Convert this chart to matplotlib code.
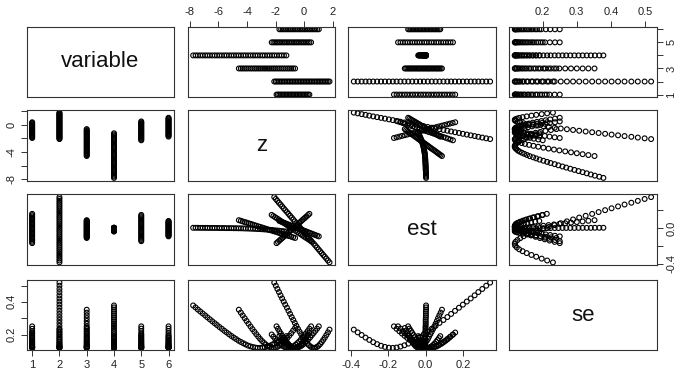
import matplotlib
matplotlib.use("Agg")
import matplotlib.pyplot as plt
import numpy as np

plt.rcParams['font.family'] = ['Liberation Sans', 'DejaVu Sans']
plt.rcParams['axes.unicode_minus'] = False

# ---------------- data ----------------
z_v1 = [-1.93, -1.83, -1.73, -1.63, -1.53, -1.43, -1.33, -1.23, -1.13, -1.03, -0.93, -0.83,
        -0.73, -0.63, -0.53, -0.43, -0.33, -0.23, -0.13, -0.03, 0.07, 0.17, 0.27, 0.37]
est_v1 = [-0.170, -0.156, -0.141, -0.127, -0.113, -0.099, -0.084, -0.070, -0.056, -0.042, -0.027, -0.013,
          0.001, 0.015, 0.030, 0.044, 0.058, 0.072, 0.087, 0.101, 0.115, 0.129, 0.144, 0.158]
se_v1 = [0.250, 0.235, 0.220, 0.206, 0.192, 0.179, 0.166, 0.155, 0.144, 0.135, 0.127, 0.122,
         0.119, 0.118, 0.120, 0.124, 0.130, 0.138, 0.148, 0.159, 0.171, 0.184, 0.198, 0.212]

z_v2 = [-2.09, -1.98, -1.87, -1.76, -1.65, -1.54, -1.43, -1.32, -1.20, -1.09, -0.98, -0.87,
        -0.76, -0.65, -0.54, -0.43, -0.32, -0.21, -0.10, 0.01, 0.12, 0.23, 0.34, 0.45,
        0.56, 0.68, 0.79, 0.90, 1.01, 1.12, 1.23, 1.34, 1.45, 1.56, 1.67, 1.78]
est_v2 = [0.345, 0.324, 0.303, 0.282, 0.262, 0.241, 0.220, 0.199, 0.178, 0.157, 0.136, 0.116,
          0.095, 0.074, 0.053, 0.032, 0.011, -0.010, -0.030, -0.051, -0.072, -0.093, -0.114, -0.135,
          -0.156, -0.176, -0.197, -0.218, -0.239, -0.260, -0.281, -0.302, -0.322, -0.343, -0.364, -0.385]
se_v2 = [0.518, 0.499, 0.479, 0.460, 0.440, 0.421, 0.402, 0.383, 0.364, 0.345, 0.326, 0.307,
         0.289, 0.271, 0.253, 0.235, 0.218, 0.202, 0.186, 0.171, 0.157, 0.144, 0.134, 0.126,
         0.120, 0.118, 0.119, 0.124, 0.131, 0.141, 0.153, 0.167, 0.181, 0.197, 0.213, 0.230]

z_v3 = [-4.57, -4.43, -4.30, -4.16, -4.03, -3.89, -3.75, -3.62, -3.48, -3.35, -3.21, -3.08,
        -2.94, -2.80, -2.67, -2.53, -2.40, -2.26, -2.12, -1.99, -1.85, -1.72, -1.58, -1.45,
        -1.31, -1.17, -1.04, -0.90, -0.77, -0.63]
est_v3 = [0.087, 0.080, 0.073, 0.066, 0.060, 0.053, 0.046, 0.039, 0.032, 0.025, 0.018, 0.012,
          0.005, -0.002, -0.009, -0.016, -0.023, -0.030, -0.037, -0.043, -0.050, -0.057, -0.064, -0.071,
          -0.078, -0.085, -0.091, -0.098, -0.105, -0.112]
se_v3 = [0.352, 0.334, 0.317, 0.300, 0.283, 0.266, 0.249, 0.233, 0.217, 0.202, 0.187, 0.173,
         0.160, 0.148, 0.138, 0.129, 0.123, 0.119, 0.118, 0.120, 0.125, 0.132, 0.142, 0.153,
         0.165, 0.179, 0.193, 0.208, 0.224, 0.240]

z_v4 = [-7.77, -7.60, -7.44, -7.27, -7.10, -6.93, -6.77, -6.60, -6.43, -6.26, -6.10, -5.93,
        -5.76, -5.59, -5.43, -5.26, -5.09, -4.92, -4.76, -4.59, -4.42, -4.25, -4.09, -3.92,
        -3.75, -3.58, -3.42, -3.25, -3.08, -2.91, -2.75, -2.58, -2.41, -2.24, -2.08, -1.91,
        -1.74, -1.57, -1.41, -1.24]
est_v4 = [0.002, 0.002, 0.002, 0.001, 0.001, 0.001, 0.001, 0.000, 0.000, 0.000, 0.000, -0.001,
          -0.001, -0.001, -0.002, -0.002, -0.002, -0.003, -0.003, -0.004, -0.004, -0.005, -0.006, -0.007,
          -0.008, -0.009, -0.010, -0.012, -0.013, -0.015, -0.017, -0.019, -0.021, -0.023, -0.026, -0.028,
          -0.031, -0.034, -0.037, -0.040]
se_v4 = [0.378, 0.366, 0.353, 0.341, 0.329, 0.317, 0.305, 0.293, 0.281, 0.269, 0.258, 0.246,
         0.235, 0.223, 0.213, 0.202, 0.191, 0.181, 0.172, 0.162, 0.154, 0.146, 0.139, 0.132,
         0.127, 0.123, 0.120, 0.118, 0.118, 0.120, 0.122, 0.126, 0.131, 0.138, 0.145, 0.153,
         0.161, 0.170, 0.180, 0.190]

z_v5 = [-2.27, -2.15, -2.03, -1.91, -1.79, -1.67, -1.55, -1.43, -1.31, -1.19, -1.07, -0.95,
        -0.83, -0.71, -0.59, -0.47, -0.35, -0.23, -0.11, 0.01, 0.13, 0.25, 0.37, 0.49]
est_v5 = [0.146, 0.133, 0.120, 0.108, 0.095, 0.082, 0.069, 0.057, 0.044, 0.031, 0.018, 0.005,
          -0.007, -0.020, -0.033, -0.046, -0.058, -0.071, -0.084, -0.097, -0.110, -0.122, -0.135, -0.148]
se_v5 = [0.200, 0.187, 0.174, 0.163, 0.152, 0.142, 0.133, 0.126, 0.121, 0.119, 0.118, 0.120,
         0.124, 0.130, 0.138, 0.147, 0.157, 0.169, 0.181, 0.194, 0.207, 0.221, 0.236, 0.250]

z_v6 = [-1.73, -1.61, -1.49, -1.37, -1.25, -1.13, -1.01, -0.89, -0.77, -0.65, -0.53, -0.41,
        -0.29, -0.17, -0.05, 0.07, 0.19, 0.31, 0.43, 0.55, 0.67, 0.79, 0.91, 1.03]
est_v6 = [0.078, 0.071, 0.063, 0.056, 0.048, 0.041, 0.033, 0.026, 0.018, 0.011, 0.003, -0.004,
          -0.012, -0.019, -0.027, -0.034, -0.042, -0.049, -0.057, -0.064, -0.072, -0.079, -0.087, -0.094]
se_v6 = [0.190, 0.178, 0.166, 0.155, 0.145, 0.137, 0.129, 0.124, 0.120, 0.118, 0.119, 0.121,
         0.126, 0.132, 0.140, 0.150, 0.160, 0.171, 0.183, 0.196, 0.209, 0.222, 0.236, 0.250]

var_names = ['variable', 'z', 'est', 'se']
var_ids = [1, 2, 3, 4, 5, 6]
z_series = [z_v1, z_v2, z_v3, z_v4, z_v5, z_v6]
est_series = [est_v1, est_v2, est_v3, est_v4, est_v5, est_v6]
se_series = [se_v1, se_v2, se_v3, se_v4, se_v5, se_v6]

tick_vals = {
    'variable': [1, 2, 3, 4, 5, 6],
    'z': [-8, -6, -4, -2, 0, 2],
    'est': [-0.4, -0.2, 0.0, 0.2],
    'se': [0.2, 0.3, 0.4, 0.5],
}
tick_text = {
    'variable': ['1', '2', '3', '4', '5', '6'],
    'z': ['-8', '-6', '-4', '-2', '0', '2'],
    'est': ['-0.4', '-0.2', '0.0', '0.2'],
    'se': ['0.2', '0.3', '0.4', '0.5'],
}
# labels R keeps on the vertical axes (others dropped for overlap)
vert_keep = {
    'variable': ['1', '3', '5'],
    'z': ['0', '-4', '-8'],
    'est': ['-0.4', '0.0'],
    'se': ['0.2', '0.4'],
}

# ---------------- assemble ----------------
cols = {
    'variable': np.concatenate([[v] * len(z) for v, z in zip(var_ids, z_series)]).astype(float),
    'z': np.concatenate(z_series),
    'est': np.concatenate(est_series),
    'se': np.concatenate(se_series),
}

def lims(a):
    lo, hi = float(np.min(a)), float(np.max(a))
    r = hi - lo
    return lo - 0.04 * r, hi + 0.04 * r

limits = {k: lims(v) for k, v in cols.items()}

fig = plt.figure(figsize=(6.85, 3.77), dpi=100)
lefts = [0.039, 0.274, 0.5085, 0.7435]
bottoms = [0.7422, 0.5212, 0.2971, 0.0703]
w, h = 0.215, 0.187
frame_col = '#333333'
tick_kw = dict(length=4.5, width=0.7, color=frame_col, labelsize=8, pad=2.5, labelcolor='#222222')

for i in range(4):
    for j in range(4):
        ax = fig.add_axes([lefts[j], bottoms[i], w, h])
        xn, yn = var_names[j], var_names[i]
        for s in ax.spines.values():
            s.set_color(frame_col)
            s.set_linewidth(0.8)
        ax.set_xlim(limits[xn])
        ax.set_ylim(limits[yn])
        ax.set_xticks([])
        ax.set_yticks([])
        if i == j:
            ax.text(0.5, 0.5, xn, transform=ax.transAxes, ha='center', va='center',
                    fontsize=16, color='#111111')
        else:
            ax.scatter(cols[xn], cols[yn], s=12, facecolors='none', edgecolors='black',
                       linewidths=0.8)
        # outer axes, R pairs alternating style
        if i == 0 and j % 2 == 1:
            ax.set_xticks(tick_vals[xn])
            ax.set_xticklabels(tick_text[xn])
            ax.xaxis.tick_top()
            ax.tick_params(axis='x', top=True, bottom=False, labeltop=True, labelbottom=False, **tick_kw)
        if i == 3 and j % 2 == 0:
            ax.set_xticks(tick_vals[xn])
            ax.set_xticklabels(tick_text[xn])
            ax.tick_params(axis='x', **tick_kw)
        if j == 3 and i % 2 == 0:
            ax.set_yticks(tick_vals[yn])
            ax.set_yticklabels([t if t in vert_keep[yn] else '' for t in tick_text[yn]],
                               rotation=90, va='center')
            ax.yaxis.tick_right()
            ax.tick_params(axis='y', right=True, left=False, labelright=True, labelleft=False, **tick_kw)
        if j == 0 and i % 2 == 1:
            ax.set_yticks(tick_vals[yn])
            ax.set_yticklabels([t if t in vert_keep[yn] else '' for t in tick_text[yn]],
                               rotation=90, va='center')
            ax.tick_params(axis='y', **tick_kw)

fig.savefig('out.png', dpi=100, facecolor='white')
